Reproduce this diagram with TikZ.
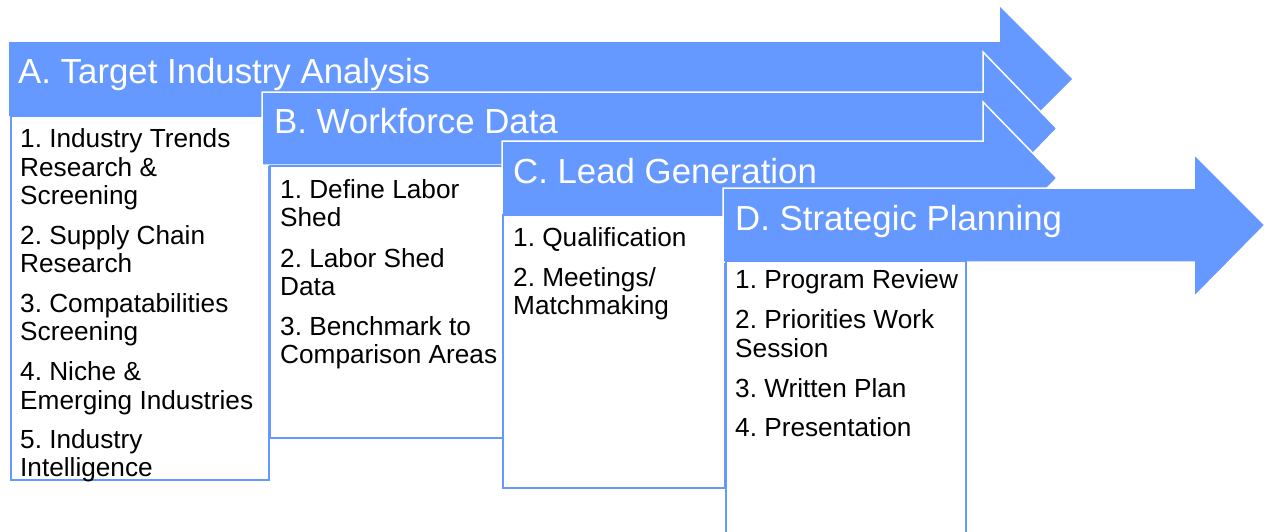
\documentclass[tikz,border=0pt]{standalone}
\usepackage{fontspec}
\setmainfont{Liberation Sans}
\frenchspacing
\definecolor{arrblue}{RGB}{102,153,255}
\tikzset{
  arrowshape/.style={fill=arrblue, draw=white, line width=1.5pt, line join=miter},
  listbox/.style={draw=arrblue, fill=white, line width=2.2pt},
  head/.style={anchor=base west, inner sep=0pt, text=white, font=\fontsize{34.8}{40}\selectfont},
  itm/.style={anchor=base west, inner sep=0pt, text=black, font=\fontsize{26.2}{29}\selectfont}
}
\begin{document}
\begin{tikzpicture}[x=1pt,y=-1pt]
\useasboundingbox (0,0) rectangle (1267,531);
% A
\fill[arrblue] (9,42) -- (1000,42) -- (1000,7) -- (1072,79) -- (1000,151) -- (1000,116) -- (9,116) -- cycle;
\draw[listbox] (11,116) rectangle (269,480);
\node[head] (ha) at (18,83) {A. Target Industry Analysis};
\foreach \t/\y [count=\i] in {1. Industry Trends/147, Research \&/176, Screening/204, 2. Supply Chain/244, Research/272, 3. Compatabilities/312, Screening/340, 4. Niche \&/380, Emerging Industries/409, 5. Industry/448, Intelligence/476}
  \node[itm] (a\i) at (20,\y) {\t};
% B
\draw[arrowshape] (262,92) -- (983,92) -- (983,52) -- (1057,128.5) -- (983,205) -- (983,165) -- (262,165) -- cycle;
\draw[listbox] (270,166) rectangle (503,438);
\node[head] (hb) at (274,133) {B. Workforce Data};
\foreach \t/\y [count=\i] in {1. Define Labor/198, Shed/226, 2. Labor Shed/267, Data/295, 3. Benchmark to/335, Comparison Areas/363}
  \node[itm] (b\i) at (280,\y) {\t};
% C
\draw[arrowshape] (502,141) -- (983,141) -- (983,102) -- (1057,178) -- (983,254) -- (983,215) -- (502,215) -- cycle;
\draw[listbox] (503,215) rectangle (725,488);
\node[head] (hc) at (513,183) {C. Lead Generation};
\foreach \t/\y [count=\i] in {1. Qualification/246, {2. Meetings/}/286, Matchmaking/314}
  \node[itm] (c\i) at (513,\y) {\t};
% D
\draw[arrowshape] (723,188) -- (1194,188) -- (1194,154) -- (1265,225) -- (1194,297) -- (1194,262) -- (723,262) -- cycle;
\draw[listbox] (726,261) rectangle (966,545);
\node[head] (hd) at (735,230) {D. Strategic Planning};
\foreach \t/\y [count=\i] in {1. Program Review/288, 2. Priorities Work/328, Session/357, 3. Written Plan/397, 4. Presentation/436}
  \node[itm] (d\i) at (735,\y) {\t};
\end{tikzpicture}
\end{document}
